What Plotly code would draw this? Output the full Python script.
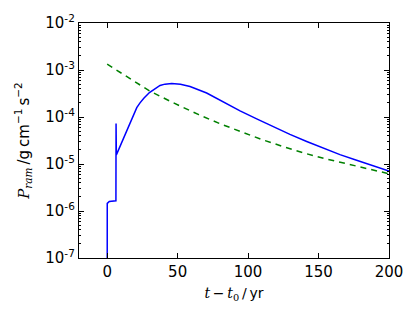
import plotly.graph_objects as go

# Blue solid curve: ram pressure vs time
t_blue = [0, 0.05, 1.5, 6.2, 6.3, 6.5, 7.9, 10, 12.6, 15, 18.5, 21, 23.3, 26, 30,
          34, 37.5, 41, 45.8, 52, 58.8, 70.6, 82.4, 94.3, 106.1, 117.9, 129.7,
          141.6, 153.4, 165.2, 177, 188.8, 200]
p_blue = [1e-9, 1.45e-6, 1.6e-6, 1.65e-6, 7.3e-5, 1.56e-5, 1.95e-5, 2.7e-5, 4.0e-5,
          6.0e-5, 1.07e-4, 1.58e-4, 2.0e-4, 2.51e-4, 3.31e-4,
          4.07e-4, 4.68e-4, 5.0e-4, 5.13e-4, 5.0e-4, 4.47e-4, 3.24e-4, 2.09e-4,
          1.35e-4, 9.1e-5, 6.2e-5, 4.27e-5, 3.02e-5, 2.19e-5, 1.58e-5, 1.2e-5,
          9.1e-6, 7.1e-6]

# Green dashed curve
t_green = [0, 15, 30, 45, 65, 80, 95, 110, 125, 140, 155, 170, 185, 200]
p_green = [1.33e-3, 6.8e-4, 3.6e-4, 2.14e-4, 1.12e-4, 7.2e-5, 4.8e-5, 3.3e-5,
           2.34e-5, 1.7e-5, 1.29e-5, 1.0e-5, 7.8e-6, 6.2e-6]

x_ticks = [0, 50, 100, 150, 200]
y_exps = [-7, -6, -5, -4, -3, -2]
y_ticks = [10.0 ** e for e in y_exps]
y_ticktext = ["10<sup>%d</sup>" % e for e in y_exps]
y_minor = [m * 10.0 ** e for e in y_exps[:-1] for m in range(2, 10)]

fig = go.Figure()
fig.add_trace(go.Scatter(x=t_green, y=p_green, mode="lines",
                         line=dict(color="#008000", width=1.5, dash="6px,5px"),
                         showlegend=False))
fig.add_trace(go.Scatter(x=t_blue, y=p_blue, mode="lines",
                         line=dict(color="#0000ff", width=1.5),
                         showlegend=False))

serif = "font-family:'DejaVu Serif'"
fig.update_layout(
    width=415, height=315,
    margin=dict(l=79, r=26, t=18, b=57),
    paper_bgcolor="white", plot_bgcolor="white",
    font=dict(family="DejaVu Sans", size=15, color="black"),
    xaxis=dict(
        range=[-20, 200], tickvals=x_ticks, ticks="inside", ticklen=5,
        tickwidth=1, tickcolor="black", showline=True, linecolor="black",
        linewidth=1.3, mirror="ticks", showgrid=False, zeroline=False,
        tickfont=dict(size=15),
        title=dict(text="<span style=\"%s\"><i>t</i>\u2009−\u2009<i>t</i><sub>0</sub></span>\u2009/\u2009yr" % serif,
                   font=dict(size=14), standoff=8),
    ),
    yaxis=dict(
        type="log", range=[-7, -2], tickvals=y_ticks, ticktext=y_ticktext,
        ticks="inside", ticklen=5, tickwidth=1, tickcolor="black",
        showline=True, linecolor="black", linewidth=1.3, mirror="ticks",
        showgrid=False, zeroline=False, tickfont=dict(size=15),
        minor=dict(tickvals=y_minor, ticks="inside", ticklen=2, tickcolor="black",
                   showgrid=False),
        title=dict(text="<span style=\"%s\"><i>P</i><sub><i>ram</i></sub></span>\u2009/g\u2009cm<sup>−1</sup>\u2009s<sup>−2</sup>" % serif,
                   font=dict(size=15), standoff=12),
    ),
)

fig.write_html("out.html", config={"displayModeBar": False},
               post_script="document.body.style.margin='0';")
